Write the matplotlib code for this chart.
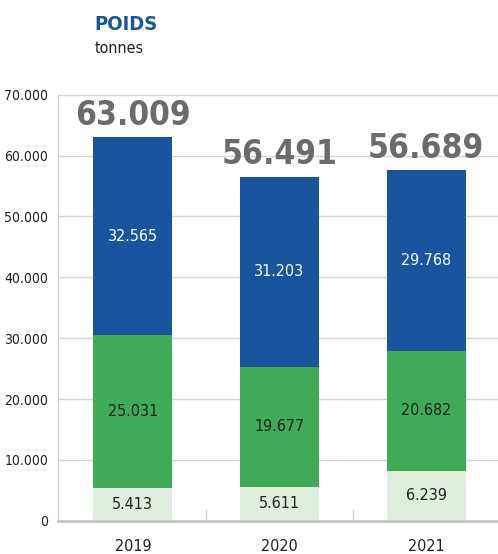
import matplotlib.pyplot as plt

years = ['2019', '2020', '2021']
# values printed on the chart
light_lab = [5413, 5611, 6239]
green_lab = [25031, 19677, 20682]
blue_lab = [32565, 31203, 29768]
totals = [63009, 56491, 56689]
# bar heights as drawn (2021 is drawn a bit off its labels)
light_bar = [5413, 5611, 8170]
green_bar = [25031, 19677, 19760]
blue_bar = [32565, 31203, 29670]

def fmt(v):
    return '{:,}'.format(v).replace(',', '.')

plt.rcParams['font.family'] = ['DejaVu Sans']
plt.rcParams['font.stretch'] = 'condensed'

c_blue = '#18559e'
c_green = '#3fab57'
c_light = '#dfeedc'

fig = plt.figure(figsize=(4.98, 5.54), dpi=100)
ax = fig.add_axes([0.1165, 0.06, 0.8835, 0.769])

x = range(len(years))
w = 0.54
ax.bar(x, light_bar, w, color=c_light, zorder=2)
ax.bar(x, green_bar, w, bottom=light_bar, color=c_green, zorder=2)
bottom2 = [a + b for a, b in zip(light_bar, green_bar)]
ax.bar(x, blue_bar, w, bottom=bottom2, color=c_blue, zorder=2)

for i in x:
    ax.text(i, light_bar[i] / 2, fmt(light_lab[i]), ha='center', va='center',
            fontsize=11.5, color='#222222', zorder=3)
    ax.text(i, light_bar[i] + green_bar[i] / 2, fmt(green_lab[i]), ha='center',
            va='center', fontsize=11.5, color='#222222', zorder=3)
    ax.text(i, bottom2[i] + blue_bar[i] / 2, fmt(blue_lab[i]), ha='center',
            va='center', fontsize=11.5, color='white', zorder=3)
    top = bottom2[i] + blue_bar[i]
    ax.text(i, top + 900, fmt(totals[i]), ha='center', va='bottom',
            fontsize=24, fontweight='bold', color='#6b6b6b', zorder=3)

ax.set_xlim(-0.51, 2.49)
ax.set_ylim(0, 70000)
ax.set_yticks(range(0, 70001, 10000))
ax.set_yticklabels([fmt(v) for v in range(0, 70001, 10000)])
ax.set_xticks(list(x))
ax.set_xticklabels(years)
ax.set_xticks([0.5, 1.5], minor=True)
ax.grid(axis='y', color='#d4d4d4', linewidth=1, zorder=0)
ax.tick_params(axis='y', length=0, labelsize=10, labelcolor='#222222', pad=7)
ax.tick_params(axis='x', which='major', length=0, labelsize=11.5,
               labelcolor='#222222', pad=13)
ax.tick_params(axis='x', which='minor', direction='in', length=9,
               color='#cccccc', width=1)
for s in ['top', 'right']:
    ax.spines[s].set_visible(False)
ax.spines['left'].set_color('#cccccc')
ax.spines['bottom'].set_color('#c4c4c4')
ax.spines['bottom'].set_linewidth(2)

fig.text(0.19, 0.956, 'POIDS', fontsize=14.5, fontweight='bold', color=c_blue,
         ha='left', va='center')
fig.text(0.19, 0.913, 'tonnes', fontsize=11.5, color='#222222',
         ha='left', va='center')

fig.savefig('out.png', dpi=100)
